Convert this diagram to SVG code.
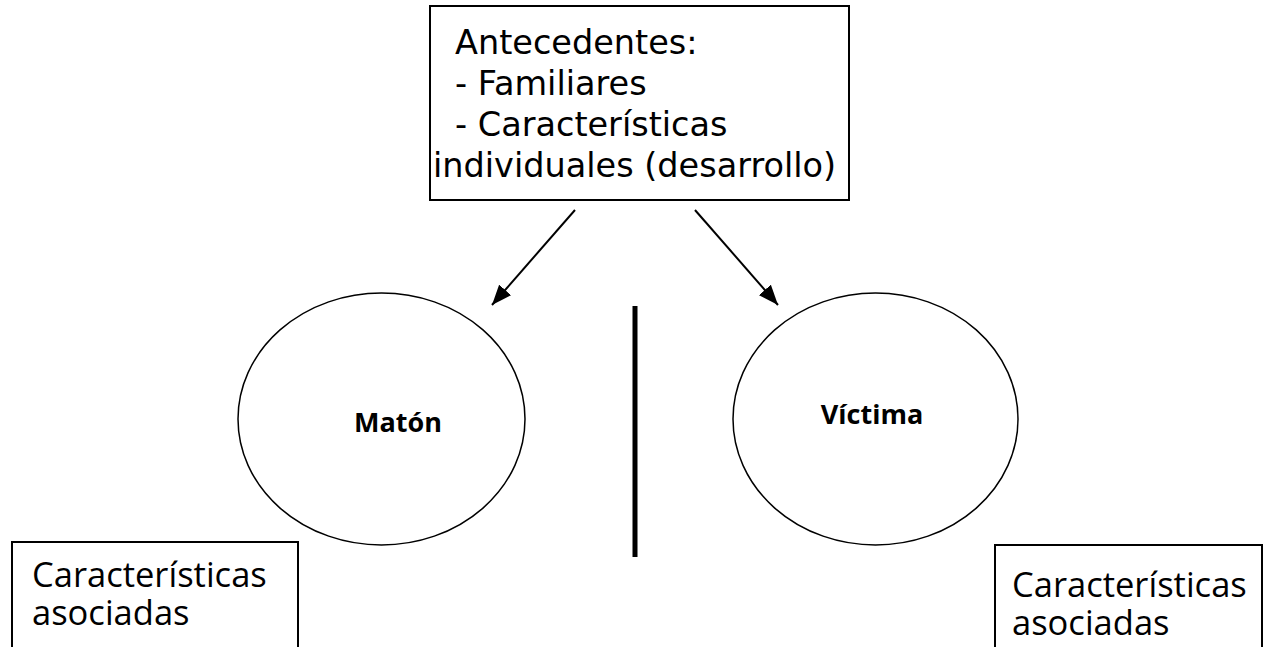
<svg xmlns="http://www.w3.org/2000/svg" width="1272" height="647" viewBox="0 0 1272 647">
  <style>
    .box { fill: #ffffff; stroke: #000000; stroke-width: 2; }
    .ell { fill: #ffffff; stroke: #000000; stroke-width: 1.5; }
    .t1 { font-family: "DejaVu Sans", Verdana, sans-serif; font-size: 33.5px; fill: #000000; }
    .t2 { font-family: "Open Sans", "Noto Sans", sans-serif; font-size: 34.5px; fill: #000000; }
    .tb { font-family: "Open Sans", "Noto Sans", sans-serif; font-size: 27px; font-weight: bold; fill: #000000; text-anchor: middle; }
    .con { stroke: #000000; stroke-width: 2; fill: none; }
  </style>
  <defs>
    <marker id="ah" viewBox="0 0 20 16" refX="20" refY="8" markerWidth="20" markerHeight="16" markerUnits="userSpaceOnUse" orient="auto">
      <path d="M0,0 L20,8 L0,16 z" fill="#000000"/>
    </marker>
  </defs>
  <rect width="1272" height="647" fill="#ffffff"/>

  <g id="antecedentes">
    <rect class="box" x="430" y="6" width="419" height="194"/>
    <text class="t1" x="455" y="54">Antecedentes:</text>
    <text class="t1" x="455" y="95">- Familiares</text>
    <text class="t1" x="455" y="136">- Características</text>
    <text class="t1" x="433" y="177">individuales (desarrollo)</text>
  </g>

  <g id="connectors">
    <line class="con" x1="575" y1="210" x2="492" y2="305" marker-end="url(#ah)"/>
    <line class="con" x1="695" y1="210" x2="778" y2="305" marker-end="url(#ah)"/>
    <line x1="635" y1="306" x2="635" y2="557" stroke="#000000" stroke-width="5"/>
  </g>

  <g id="maton">
    <ellipse class="ell" cx="381.5" cy="419" rx="143.5" ry="126"/>
    <text class="tb" x="398" y="432">Matón</text>
  </g>

  <g id="victima">
    <ellipse class="ell" cx="875.5" cy="419" rx="142.5" ry="126"/>
    <text class="tb" x="872" y="424">Víctima</text>
  </g>

  <g id="caracteristicas-maton">
    <rect class="box" x="12" y="542" width="286" height="110"/>
    <text class="t2" x="32" y="587">Características</text>
    <text class="t2" x="32" y="625">asociadas</text>
  </g>

  <g id="caracteristicas-victima">
    <rect class="box" x="995" y="545" width="267" height="110"/>
    <text class="t2" x="1012" y="597">Características</text>
    <text class="t2" x="1012" y="635">asociadas</text>
  </g>
</svg>
